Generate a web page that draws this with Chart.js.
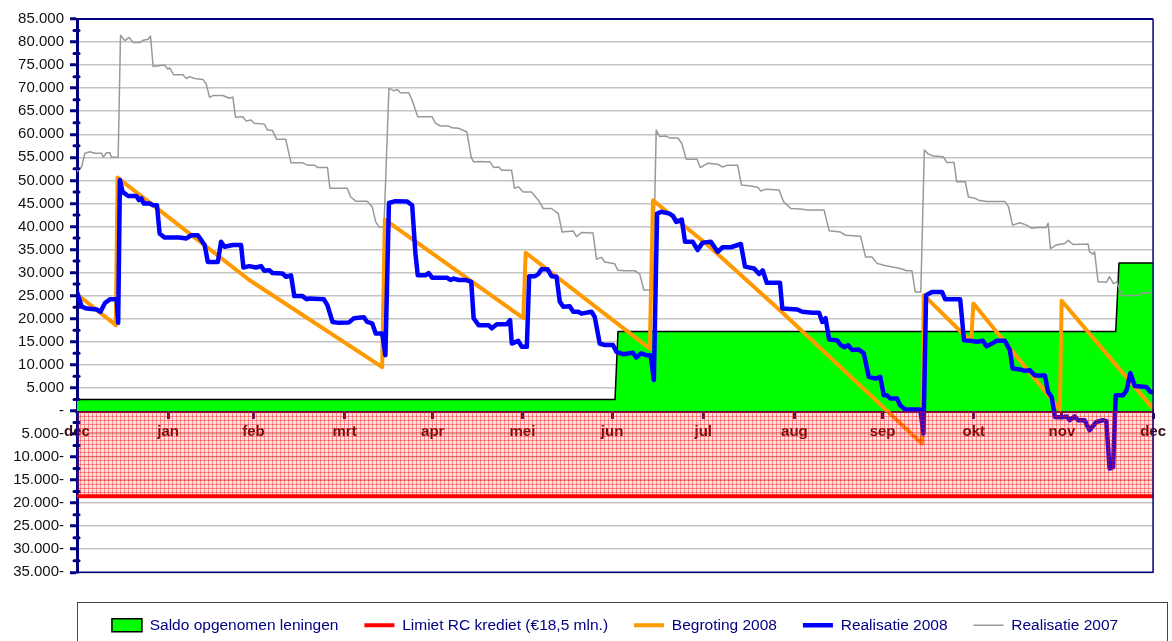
<!DOCTYPE html>
<html>
<head>
<meta charset="utf-8">
<script src="https://cdn.jsdelivr.net/npm/chart.js@4.4.1/dist/chart.umd.min.js"></script>
<style>
  html, body { margin: 0; padding: 0; background: #ffffff; overflow: hidden; }
  canvas { display: block; }
</style>
</head>
<body>
<canvas id="saldoChart" width="1172" height="643"></canvas>
<script>
// month ticks (days counted from 1 dec 2007)
var monthLabels = ['dec', 'jan', 'feb', 'mrt', 'apr', 'mei', 'jun', 'jul', 'aug', 'sep', 'okt', 'nov', 'dec'];
var monthStartDays = [0, 31, 60, 91, 121, 151.5, 182, 213, 244, 274, 305, 335, 366];

// saldo opgenomen leningen
var saldoDays = [0, 183, 184, 353.3, 354.4, 366];
var saldoValues = [2500, 2500, 17200, 17200, 32100, 32100];

// limiet RC krediet
var limietDays = [0, 366];
var limietValues = [-18500, -18500];

// begroting 2008
var begrotingDays = [0, 13.2, 13.8, 58.6, 103.8, 104.7, 151.8, 152.6, 194.8, 195.9, 214.5, 240, 287.4, 288, 304.1, 304.9, 334.3, 334.9, 366];
var begrotingValues = [25300, 18600, 50600, 28400, 9500, 41500, 20100, 34300, 13500, 45700, 36000, 21300, -7100, 25100, 15000, 23300, 300, 23900, 500];

// realisatie 2008
var real2008Days = [
    0, 1.6, 3.3, 6.7, 8, 9.5, 11.2, 13.5, 14, 14.6, 15.5, 17.4, 20.2, 21.1, 21.9, 22.7, 24.7, 25.9, 27.2, 28.1,
    29.8, 34.9, 37.2, 38.9, 41.1, 42.3, 43.4, 44.5, 47.9, 49, 50.2, 53, 55.8, 56.6, 58.6, 60.9, 62.6, 63.7, 65.4, 66.5,
    69.9, 71.1, 72.8, 73.9, 76.7, 78.1, 79, 84, 85.2, 86.9, 89.1, 92.5, 94.2, 97.6, 98.7, 100.4, 101.6, 103.8, 104.9, 106.1,
    108.3, 112.3, 114, 115.1, 115.9, 118.5, 119.6, 120.8, 125.8, 127, 128.1, 129.8, 132.1, 134.1, 134.9, 136.6, 140, 141.1, 142.8, 146.2,
    147.3, 147.9, 150.1, 151.3, 153, 153.8, 155.8, 156.9, 158, 160.1, 161.4, 163.1, 164.2, 165.4, 167.6, 168.8, 170.5, 171.6, 175, 176.1,
    177.8, 179.5, 182.3, 183.5, 185.7, 189.1, 190.2, 191.9, 193.6, 195.1, 196.2, 197.3, 198.7, 201.5, 202.7, 203.8, 205.7, 206.8, 209.4, 211.1,
    212.8, 215.6, 217.9, 219.6, 222.4, 225.8, 227.2, 230.3, 232, 233.2, 234.6, 239.1, 239.9, 245, 246.7, 250.1, 252.4, 253.5, 254.6, 255.8,
    258.6, 259.7, 261.1, 262.2, 263.7, 265.9, 267.6, 269.3, 271.6, 273.2, 274.4, 275.5, 276.6, 278.9, 280, 281.7, 286.8, 287.9, 288.8, 290.8,
    294.2, 295.3, 300.4, 301.7, 303.8, 306.1, 308.1, 309.4, 311.1, 312.8, 315.6, 317.3, 318.2, 320.7, 322.4, 324.1, 325.8, 329.2, 330.3, 331.5,
    332.6, 334.9, 336.6, 337.6, 339.3, 340.5, 342.7, 344.4, 346.7, 349, 350.1, 351.2, 352.4, 353.3, 355.8, 357, 358.3, 359.8, 363.7, 365.1, 366
];
var real2008Values = [
    25800, 22600, 22200, 22000, 21500, 23400, 24200, 24200, 19100, 50100, 47500, 46600, 46600, 45700, 46100, 45000, 45000, 44600, 44600, 38500,
    37600, 37600, 37400, 38100, 38100, 37000, 36000, 32300, 32300, 36700, 35600, 36000, 36000, 31100, 31400, 31100, 31400, 30400, 30500, 29900,
    29800, 29100, 29400, 24900, 24900, 24200, 24400, 24200, 22900, 19300, 19100, 19200, 20100, 20300, 19300, 19000, 16800, 16800, 12100, 45100,
    45500, 45400, 44600, 34200, 29400, 29400, 29900, 28900, 28900, 28400, 28700, 28400, 28400, 28000, 20100, 18600, 18600, 17900, 18800, 18800,
    19700, 14600, 15200, 13900, 13900, 29200, 29200, 29700, 30700, 30700, 29200, 29100, 23700, 22600, 22700, 21500, 21500, 21100, 21500, 20400,
    14600, 14300, 14300, 12800, 12300, 12600, 11600, 12500, 12100, 12100, 6700, 42800, 43200, 42800, 42300, 41000, 41500, 36700, 36700, 34900,
    36500, 36700, 34500, 35500, 35500, 36200, 31300, 30900, 29700, 30500, 27800, 27800, 22200, 22000, 21500, 21300, 21300, 19300, 20100, 15500,
    15300, 14300, 13800, 14300, 13200, 13300, 12500, 7400, 7000, 7400, 3400, 3400, 2700, 2700, 1200, 300, 300, -4900, 25100, 25800,
    25800, 24200, 24200, 15300, 15200, 15000, 15200, 14000, 14600, 15200, 15200, 13200, 9200, 9000, 8700, 8800, 7700, 7700, 4100, 3000,
    -1300, -1400, -1200, -2000, -1200, -2000, -2000, -4200, -2400, -2000, -2200, -12500, -12200, 3400, 3400, 4500, 8200, 5400, 5200, 4100, 4100
];

// realisatie 2007
var real2007Days = [
    0, 1.6, 2.7, 4.4, 6.1, 8.4, 8.9, 10, 11.2, 11.7, 14, 14.8, 16.3, 17.7, 19.1, 21.3, 22.5, 24.2, 25, 25.9,
    29.8, 30.9, 31.5, 32.9, 36, 37.2, 38.3, 40, 42.8, 43.9, 45.1, 46.2, 49.6, 51.9, 53, 53.9, 56.4, 57.5, 59.2, 60.3,
    63.7, 64.8, 66.5, 67.9, 71, 72.8, 76.7, 78.4, 80.7, 81.8, 85.2, 86, 91.9, 93.1, 94.8, 98.7, 100.4, 101.6, 102.7, 104.4,
    106.1, 107.8, 108.9, 110, 112.8, 114, 115.9, 120.8, 121.9, 123.6, 126.4, 127.5, 129.8, 132.6, 134.1, 134.9, 136.6, 140.5, 141.7, 143.4,
    144.5, 147.8, 148.8, 150.1, 151.8, 154.6, 156.9, 158.6, 161.4, 163.7, 165, 168.8, 169.9, 171.6, 175.5, 176.7, 178.4, 179.5, 182.9, 184,
    186.3, 189.7, 191.4, 192.8, 195.9, 197, 198.2, 200.4, 201.5, 204.4, 205.7, 207.2, 210.9, 212, 214.5, 217.9, 219.6, 221.3, 224.7, 226,
    229.2, 231.5, 232.6, 234.3, 238.8, 240.3, 242.8, 246.1, 248.4, 254.1, 255.8, 259.7, 261.4, 266.5, 268.2, 270.4, 272.1, 274.4, 276.6, 280,
    282.3, 284, 285.1, 287, 288.2, 289.6, 291.3, 294.7, 295.8, 298.3, 299.2, 302.1, 303.2, 305.5, 306.6, 309.4, 315.6, 316.8, 318.2, 320.7,
    323, 324.7, 327, 329.7, 330.3, 331.1, 333.1, 336, 337.1, 338.8, 343.9, 344.4, 345.6, 346.1, 347.3, 350.1, 351.2, 352.5, 353.7, 355.2,
    361.4, 362.6, 366
];
var real2007Values = [
    51900, 53000, 55900, 56200, 55900, 55900, 55000, 56000, 56000, 55000, 55000, 81500, 80300, 81000, 79900, 79900, 80400, 80600, 81300, 74700,
    75000, 74100, 74400, 72900, 72900, 72100, 72500, 72100, 71900, 71000, 68000, 68400, 68400, 67800, 68100, 63700, 63800, 62900, 63100, 62400,
    62200, 60900, 60800, 58900, 58900, 53800, 53800, 53300, 53300, 52800, 52800, 48300, 48300, 46400, 45500, 45500, 44300, 41000, 39900, 39900,
    70000, 69400, 69700, 69000, 69000, 67400, 63800, 63800, 62400, 61800, 61800, 61400, 61300, 60500, 55000, 54000, 54100, 54000, 52800, 52900,
    52200, 52200, 48300, 48600, 47500, 47500, 45700, 43900, 43900, 42800, 38800, 39000, 37800, 38700, 38600, 32900, 33300, 32300, 31900, 30500,
    30400, 30400, 29700, 26200, 26200, 60900, 59500, 59600, 59200, 59200, 58000, 54600, 54600, 52800, 53700, 53500, 52900, 53300, 53300, 49000,
    48800, 48500, 47700, 48100, 47900, 45400, 43900, 43800, 43600, 43600, 39100, 38800, 38100, 37900, 33400, 33400, 32000, 31600, 31300, 30900,
    30400, 30400, 25800, 25800, 56600, 55700, 55300, 55100, 53900, 53900, 49700, 49700, 46400, 46100, 45700, 45400, 45400, 44300, 40300, 40800,
    40300, 39600, 39800, 39800, 40700, 35200, 36000, 36300, 37000, 36100, 36200, 34500, 34000, 34500, 28000, 27900, 29100, 27600, 28000, 25000,
    25100, 25600, 25700
];

function toPoints(days, values) {
    return days.map(function(d, i) { return { x: d, y: values[i] }; });
}

// thousands with a dot, negative numbers get a trailing minus like in the sheet
function formatNl(v) {
    var s = Math.abs(v).toString().replace(/\B(?=(\d{3})+(?!\d))/g, '.');
    if (v === 0) return '-';
    return v < 0 ? s + '-' : s;
}

// pink grid fill for the credit limit zone
var tile = document.createElement('canvas');
tile.width = 4;
tile.height = 4;
var tctx = tile.getContext('2d');
tctx.fillStyle = 'rgba(255, 70, 70, 0.16)';
tctx.fillRect(0, 0, 4, 4);
tctx.fillStyle = 'rgba(245, 0, 0, 0.38)';
tctx.fillRect(0, 0, 4, 1);
tctx.fillRect(0, 0, 1, 4);
var limietPattern = tctx.createPattern(tile, 'repeat');

var navy = '#000080';

// minor ticks on the y axis + navy frame + legend box
var chartDecor = {
    id: 'chartDecor',
    afterDraw: function(chart) {
        var ctx = chart.ctx;
        var area = chart.chartArea;
        var y = chart.scales.y;
        ctx.save();
        ctx.strokeStyle = navy;
        ctx.lineWidth = 3;
        ctx.lineCap = 'round';
        for (var v = -32500; v < 85000; v += 5000) {
            var py = y.getPixelForValue(v);
            ctx.beginPath();
            ctx.moveTo(area.left - 3, py);
            ctx.lineTo(area.left + 2, py);
            ctx.stroke();
        }
        ctx.lineCap = 'butt';
        ctx.lineWidth = 2;
        ctx.beginPath();
        ctx.moveTo(area.left, area.top);
        ctx.lineTo(area.right, area.top);
        ctx.stroke();
        ctx.lineWidth = 1.5;
        ctx.beginPath();
        ctx.moveTo(area.right, area.top);
        ctx.lineTo(area.right, area.bottom);
        ctx.lineTo(area.left, area.bottom);
        ctx.stroke();
        ctx.strokeStyle = '#444444';
        ctx.lineWidth = 1;
        ctx.strokeRect(77.5, 602.5, 1090, 60);
        ctx.restore();
    }
};

Chart.defaults.font.family = "'Liberation Sans', Arial, sans-serif";
Chart.defaults.font.size = 15;

var ctxEl = document.getElementById('saldoChart');
new Chart(ctxEl, {
    type: 'line',
    data: {
        datasets: [{
            label: 'Saldo opgenomen leningen',
            data: toPoints(saldoDays, saldoValues),
            borderColor: '#000000',
            borderWidth: 1.5,
            backgroundColor: '#00ff00',
            fill: 'origin',
            order: 4,
            legendStyle: 'rect'
        }, {
            label: 'Limiet RC krediet (\u20AC18,5 mln.)',
            data: toPoints(limietDays, limietValues),
            borderColor: '#ff0000',
            borderWidth: 4,
            backgroundColor: limietPattern,
            fill: 'origin',
            order: 0,
            legendStyle: 'line'
        }, {
            label: 'Begroting 2008',
            data: toPoints(begrotingDays, begrotingValues),
            borderColor: '#ff9900',
            borderWidth: 4,
            fill: false,
            order: 2,
            legendStyle: 'line'
        }, {
            label: 'Realisatie 2008',
            data: toPoints(real2008Days, real2008Values),
            borderColor: '#0000ff',
            borderWidth: 4.5,
            fill: false,
            order: 1,
            legendStyle: 'line'
        }, {
            label: 'Realisatie 2007',
            data: toPoints(real2007Days, real2007Values),
            borderColor: '#999999',
            borderWidth: 1.5,
            fill: false,
            order: 3,
            legendStyle: 'line'
        }]
    },
    options: {
        responsive: false,
        animation: false,
        devicePixelRatio: 1,
        elements: {
            point: { radius: 0, hoverRadius: 0 },
            line: { tension: 0, borderJoinStyle: 'round', borderCapStyle: 'round' }
        },
        layout: { padding: { top: 19, right: 15, left: 0, bottom: 0 } },
        plugins: {
            tooltip: { enabled: false },
            legend: {
                position: 'bottom',
                fullSize: false,
                title: { display: true, text: '', padding: { top: 18, bottom: 0 }, font: { size: 1 } },
                labels: {
                    usePointStyle: true,
                    pointStyleWidth: 30,
                    boxHeight: 13,
                    padding: 26,
                    color: navy,
                    font: { size: 15.5 },
                    generateLabels: function(chart) {
                        return chart.data.datasets.map(function(ds, i) {
                            var isBox = ds.legendStyle === 'rect';
                            return {
                                text: ds.label,
                                datasetIndex: i,
                                pointStyle: ds.legendStyle,
                                fillStyle: ds.backgroundColor,
                                strokeStyle: ds.borderColor,
                                lineWidth: isBox ? 1.5 : ds.borderWidth,
                                fontColor: navy,
                                hidden: false
                            };
                        });
                    }
                }
            }
        },
        scales: {
            x: {
                type: 'linear',
                position: { y: 0 },
                min: 0,
                max: 366,
                z: 1,
                afterBuildTicks: function(scale) {
                    scale.ticks = monthStartDays.map(function(d) { return { value: d }; });
                },
                ticks: {
                    autoSkip: false,
                    maxRotation: 0,
                    minRotation: 0,
                    padding: 6,
                    color: '#3a0c10',
                    font: { size: 15, weight: 'bold' },
                    callback: function(value, index) { return monthLabels[index]; }
                },
                grid: {
                    drawOnChartArea: false,
                    tickLength: 6,
                    tickWidth: 3,
                    tickColor: '#2a1466'
                },
                border: { color: '#2a1466', width: 4 }
            },
            y: {
                min: -35000,
                max: 85000,
                afterFit: function(scale) { scale.width = 77; },
                ticks: {
                    stepSize: 5000,
                    autoSkip: false,
                    padding: 6,
                    color: '#111111',
                    font: { size: 15 },
                    callback: function(value) { return formatNl(value); }
                },
                grid: {
                    color: function(c) { return c.tick && c.tick.value === 0 ? 'rgba(0,0,0,0)' : '#c4c4c4'; },
                    lineWidth: 1.5,
                    tickLength: 7,
                    tickWidth: 3,
                    tickColor: navy
                },
                border: { color: navy, width: 3 }
            }
        }
    },
    plugins: [chartDecor]
});
</script>
</body>
</html>
